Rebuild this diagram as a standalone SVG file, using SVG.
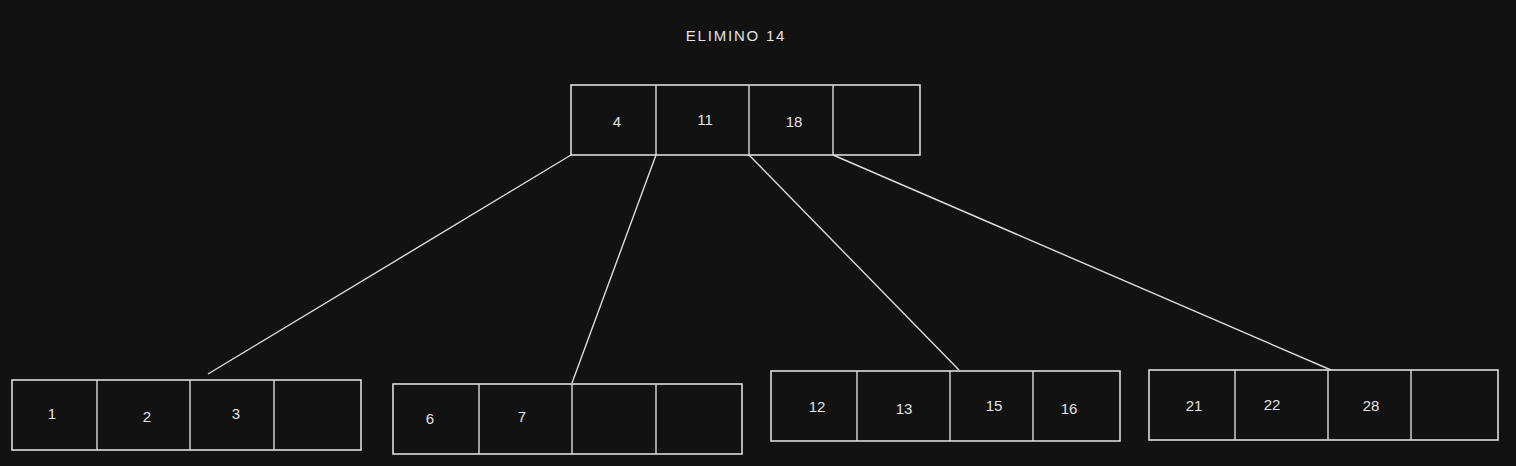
<svg xmlns="http://www.w3.org/2000/svg" width="1516" height="466" viewBox="0 0 1516 466">
<style>
.box{fill:none;stroke:#dcdcdc;stroke-width:1.6}
.ln{stroke:#dcdcdc;stroke-width:1.4;fill:none}
.t{font-family:"Liberation Sans",Arial,sans-serif;font-size:15px;fill:#e3e3e3;text-anchor:middle;dominant-baseline:central}
.title{font-family:"Liberation Sans",Arial,sans-serif;font-size:15px;fill:#e3e3e3;text-anchor:middle;dominant-baseline:central;letter-spacing:1.8px}
</style>
<rect width="1516" height="466" fill="#121212"/>
<text class="title" x="736" y="35">ELIMINO 14</text>
<g id="connectors">
<line class="ln" x1="571" y1="155" x2="208" y2="374"/>
<line class="ln" x1="656" y1="155" x2="572" y2="383"/>
<line class="ln" x1="749" y1="155" x2="959" y2="370"/>
<line class="ln" x1="833" y1="155" x2="1331" y2="370"/>
</g>
<g id="root">
<rect class="box" x="571" y="85" width="349" height="70"/>
<line class="ln" x1="656" y1="85" x2="656" y2="155"/>
<line class="ln" x1="749" y1="85" x2="749" y2="155"/>
<line class="ln" x1="833" y1="85" x2="833" y2="155"/>
<text class="t" x="617" y="121">4</text>
<text class="t" x="705" y="119">11</text>
<text class="t" x="794" y="121">18</text>
</g>
<g id="node1">
<rect class="box" x="12" y="380" width="349" height="70"/>
<line class="ln" x1="97" y1="380" x2="97" y2="450"/>
<line class="ln" x1="190" y1="380" x2="190" y2="450"/>
<line class="ln" x1="274" y1="380" x2="274" y2="450"/>
<text class="t" x="52" y="413">1</text>
<text class="t" x="147" y="416">2</text>
<text class="t" x="236" y="413">3</text>
</g>
<g id="node2">
<rect class="box" x="393" y="384" width="349" height="70"/>
<line class="ln" x1="479" y1="384" x2="479" y2="454"/>
<line class="ln" x1="572" y1="384" x2="572" y2="454"/>
<line class="ln" x1="656" y1="384" x2="656" y2="454"/>
<text class="t" x="430" y="418">6</text>
<text class="t" x="522" y="416">7</text>
</g>
<g id="node3">
<rect class="box" x="771" y="371" width="349" height="70"/>
<line class="ln" x1="857" y1="371" x2="857" y2="441"/>
<line class="ln" x1="950" y1="371" x2="950" y2="441"/>
<line class="ln" x1="1033" y1="371" x2="1033" y2="441"/>
<text class="t" x="817" y="406">12</text>
<text class="t" x="904" y="408">13</text>
<text class="t" x="994" y="405">15</text>
<text class="t" x="1069" y="408">16</text>
</g>
<g id="node4">
<rect class="box" x="1149" y="370" width="349" height="70"/>
<line class="ln" x1="1235" y1="370" x2="1235" y2="440"/>
<line class="ln" x1="1328" y1="370" x2="1328" y2="440"/>
<line class="ln" x1="1411" y1="370" x2="1411" y2="440"/>
<text class="t" x="1194" y="405">21</text>
<text class="t" x="1272" y="404">22</text>
<text class="t" x="1371" y="405">28</text>
</g>
</svg>
